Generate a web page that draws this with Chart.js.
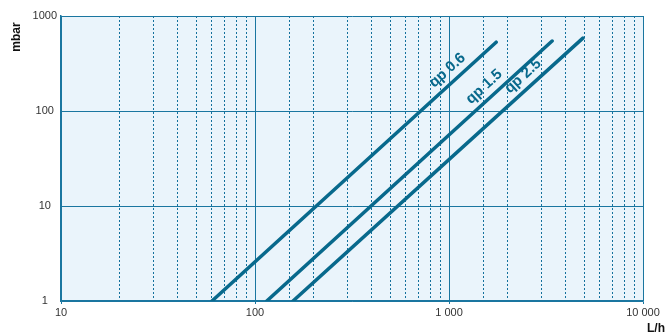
<!DOCTYPE html>
<html><head><meta charset="utf-8">
<script src="https://cdn.jsdelivr.net/npm/chart.js@4"></script>
<style>html,body{margin:0;padding:0;background:#fff}#wrap{width:668px;height:336px}</style>
</head><body><div id="wrap"><canvas id="c" width="668" height="336"></canvas></div>
<script>
const seriesNames = ['qp 0.6', 'qp 1.5', 'qp 2.5'];
const flowStart = [60, 115, 157];     // L/h
const pressStart = [1, 1, 1];         // mbar
const flowEnd = [1750, 3400, 4900];   // L/h
const pressEnd = [530, 545, 585];     // mbar
const labelFlow = [1080, 1670, 2650]; // where the series label sits
const xTickLabels = {10: '10', 100: '100', 1000: '1 000', 10000: '10 000'};
const yTickLabels = {1: '1', 10: '10', 100: '100', 1000: '1000'};

const LINE = '#08698c';
const GRID = '#1a76a0';
const FONT = '"Liberation Sans", Arial, sans-serif';

const isDecade = v => Math.abs(Math.log10(v) - Math.round(Math.log10(v))) < 1e-9;

const datasets = seriesNames.map((n, i) => ({
  label: n,
  data: [{x: flowStart[i], y: pressStart[i]}, {x: flowEnd[i], y: pressEnd[i]}],
  borderColor: LINE, borderWidth: 3.5, pointRadius: 0, borderCapStyle: 'round', fill: false, tension: 0
}));

const bgPlugin = {
  id: 'bg',
  beforeDraw(chart) {
    const {ctx, chartArea: a} = chart;
    ctx.save(); ctx.fillStyle = '#eaf4fb';
    ctx.fillRect(a.left, a.top, a.right - a.left, a.bottom - a.top);
    ctx.restore();
  }
};

const labelPlugin = {
  id: 'lbl',
  afterDatasetsDraw(chart) {
    const {ctx, scales: {x, y}, chartArea: a} = chart;
    ctx.save();
    seriesNames.forEach((n, i) => {
      const x0 = x.getPixelForValue(flowStart[i]), y0 = y.getPixelForValue(pressStart[i]);
      const x1 = x.getPixelForValue(flowEnd[i]), y1 = y.getPixelForValue(pressEnd[i]);
      const t = (Math.log10(labelFlow[i]) - Math.log10(flowStart[i])) / (Math.log10(flowEnd[i]) - Math.log10(flowStart[i]));
      const px = x0 + (x1 - x0) * t, py = y0 + (y1 - y0) * t;
      const ang = Math.atan2(y1 - y0, x1 - x0);
      ctx.translate(px, py); ctx.rotate(ang);
      ctx.font = 'bold 15px ' + FONT; ctx.fillStyle = LINE;
      ctx.textAlign = 'center'; ctx.textBaseline = 'middle';
      ctx.fillText(n, 0, -12);
      ctx.setTransform(1, 0, 0, 1, 0, 0);
    });
    // axis titles
    ctx.fillStyle = '#111'; ctx.font = 'bold 12px ' + FONT;
    ctx.textAlign = 'center'; ctx.textBaseline = 'middle';
    ctx.fillText('L/h', a.right + 13, a.bottom + 28);
    ctx.translate(a.left - 44, a.top + 21); ctx.rotate(-Math.PI / 2);
    ctx.fillText('mbar', 0, 0);
    ctx.restore();
  }
};

new Chart(document.getElementById('c'), {
  type: 'line',
  data: {datasets},
  options: {
    responsive: false, animation: false,
    layout: {padding: {top: 16, right: 25, left: 0, bottom: 0}},
    plugins: {legend: {display: false}, tooltip: {enabled: false}},
    scales: {
      x: {
        type: 'logarithmic', min: 10, max: 10000,
        afterFit(s) { s.height = 35; },
        ticks: {
          autoSkip: false, maxRotation: 0, padding: 2, color: '#333',
          font: {family: FONT, size: 11},
          callback: v => xTickLabels[v] !== undefined ? xTickLabels[v] : ''
        },
        grid: {
          color: c => (c.tick && isDecade(c.tick.value)) ? GRID : '#13709c',
          lineWidth: 1, tickLength: 3,
          tickColor: c => (c.tick && isDecade(c.tick.value)) ? GRID : 'rgba(0,0,0,0)'
        },
        border: {color: GRID, width: 1.5, dash: c => (c.tick && !isDecade(c.tick.value)) ? [2, 2] : []}
      },
      y: {
        type: 'logarithmic', min: 1, max: 1000,
        afterFit(s) { s.width = 61; },
        ticks: {
          autoSkip: false, padding: 4, crossAlign: 'center', color: '#333',
          font: {family: FONT, size: 11},
          callback: v => yTickLabels[v] !== undefined ? yTickLabels[v] : ''
        },
        grid: {
          drawTicks: false,
          color: c => (c.tick && isDecade(c.tick.value)) ? GRID : 'rgba(0,0,0,0)',
          lineWidth: 1
        },
        border: {color: GRID, width: 1.5}
      }
    }
  },
  plugins: [bgPlugin, labelPlugin]
});
</script>
</body></html>
